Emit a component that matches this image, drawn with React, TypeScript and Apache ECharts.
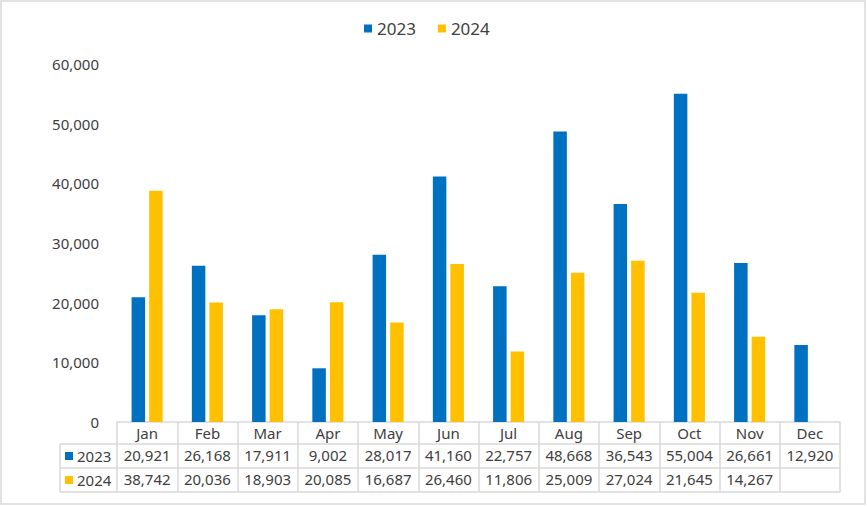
import React, { useEffect, useRef } from "react";
import * as echarts from "echarts";

const months = ["Jan", "Feb", "Mar", "Apr", "May", "Jun", "Jul", "Aug", "Sep", "Oct", "Nov", "Dec"];
const sales2023 = [20921, 26168, 17911, 9002, 28017, 41160, 22757, 48668, 36543, 55004, 26661, 12920];
const sales2024 = [38742, 20036, 18903, 20085, 16687, 26460, 11806, 25009, 27024, 21645, 14267, null];
const seriesNames = ["2023", "2024"];
const colors = ["#0070C0", "#FFC000"];

const W = 867;
const H = 506;
const GRID_LEFT = 117;
const GRID_RIGHT = 27;
const GRID_TOP = 64;
const GRID_BOTTOM = 84;
const ROW_H = [22, 24, 24];
const TABLE_LEFT = 60;
const LINE = "#d9d9d9";
const TEXT = "#404040";
const FONT = "Noto Sans";
const FS = 15;

const fmt = (v: number | null) => (v == null ? "" : v.toLocaleString("en-US"));

export default function App() {
  const ref = useRef<HTMLDivElement>(null);
  useEffect(() => {
    if (!ref.current) return;
    const chart = echarts.init(ref.current, null, { renderer: "svg" });
    const axisY = H - GRID_BOTTOM;
    const y1 = axisY + ROW_H[0];
    const y2 = y1 + ROW_H[1];
    const y3 = y2 + ROW_H[2];
    const lineStyle = { stroke: LINE, lineWidth: 1.5 };
    const rowLabels = [
      { y: (y1 + y2) / 2, name: seriesNames[0], color: colors[0] },
      { y: (y2 + y3) / 2, name: seriesNames[1], color: colors[1] },
    ];
    const graphic: any[] = [
      { type: "rect", shape: { x: 1, y: 1, width: W - 3, height: H - 3 }, style: { fill: "none", stroke: LINE, lineWidth: 1.5 }, silent: true },
      { type: "line", shape: { x1: TABLE_LEFT, y1: y1, x2: TABLE_LEFT, y2: y3 }, style: lineStyle },
      { type: "line", shape: { x1: TABLE_LEFT, y1: y1, x2: GRID_LEFT, y2: y1 }, style: lineStyle },
      { type: "line", shape: { x1: TABLE_LEFT, y1: y2, x2: GRID_LEFT, y2: y2 }, style: lineStyle },
      { type: "line", shape: { x1: TABLE_LEFT, y1: y3, x2: GRID_LEFT, y2: y3 }, style: lineStyle },
    ];
    rowLabels.forEach((r) => {
      graphic.push({ type: "rect", shape: { x: TABLE_LEFT + 5, y: r.y - 4, width: 8, height: 8 }, style: { fill: r.color } });
      graphic.push({
        type: "text",
        x: TABLE_LEFT + 17,
        y: r.y,
        style: { text: r.name, fill: TEXT, font: `${FS}px "${FONT}"`, verticalAlign: "middle", align: "left" },
      });
    });

    const tableAxis = (offset: number, labels: (number | null)[] | null, showLine: boolean) => ({
      type: "category",
      data: months,
      position: "bottom",
      offset,
      gridIndex: 0,
      axisLine: { show: showLine, lineStyle: { color: LINE, width: 1.5 } },
      axisTick: { show: false },
      axisLabel: {
        show: !!labels,
        interval: 0,
        margin: 3,
        color: TEXT,
        fontFamily: FONT,
        fontSize: FS,
        formatter: (_v: string, i: number) => (labels ? fmt(labels[i]) : ""),
      },
    });

    chart.setOption({
      animation: false,
      legend: {
        top: 15,
        left: 359,
        icon: "rect",
        itemWidth: 8,
        itemHeight: 8,
        itemGap: 22,
        textStyle: { color: TEXT, fontFamily: FONT, fontSize: 17 },
        data: seriesNames,
      },
      grid: { left: GRID_LEFT, right: GRID_RIGHT, top: GRID_TOP, bottom: GRID_BOTTOM, containLabel: false },
      xAxis: [
        {
          type: "category",
          data: months,
          position: "bottom",
          axisLine: { show: true, lineStyle: { color: LINE, width: 1.5 } },
          axisTick: { show: true, interval: 0, length: ROW_H[0] + ROW_H[1] + ROW_H[2], lineStyle: { color: LINE, width: 1.5 } },
          axisLabel: { interval: 0, margin: 3, color: TEXT, fontFamily: FONT, fontSize: FS },
        },
        tableAxis(ROW_H[0], sales2023, true),
        tableAxis(ROW_H[0] + ROW_H[1], sales2024, true),
        tableAxis(ROW_H[0] + ROW_H[1] + ROW_H[2], null, true),
      ],
      yAxis: {
        type: "value",
        min: 0,
        max: 60000,
        interval: 10000,
        axisLine: { show: false },
        axisTick: { show: false },
        splitLine: { show: false },
        axisLabel: { margin: 18, color: TEXT, fontFamily: FONT, fontSize: FS, formatter: (v: number) => fmt(v) },
      },
      series: [
        { name: seriesNames[0], type: "bar", data: sales2023, barWidth: 13.5, barGap: "30%", itemStyle: { color: colors[0] } },
        { name: seriesNames[1], type: "bar", data: sales2024, barWidth: 13.5, barGap: "30%", itemStyle: { color: colors[1] } },
      ],
      graphic,
    });
    return () => chart.dispose();
  }, []);
  return <div ref={ref} style={{ position: "absolute", left: 0, top: 0, width: W, height: H, background: "#fff" }} />;
}
